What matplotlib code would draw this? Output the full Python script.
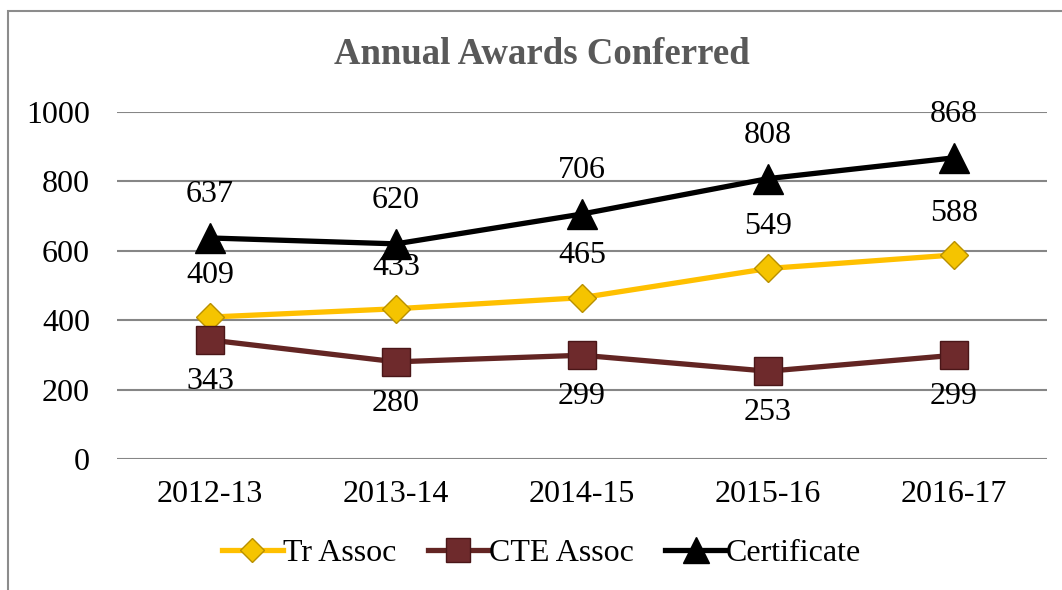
import matplotlib
matplotlib.use("Agg")
import matplotlib.pyplot as plt
from matplotlib.patches import Rectangle

categories = ["2012-13", "2013-14", "2014-15", "2015-16", "2016-17"]
tr_assoc = [409, 433, 465, 549, 588]
cte_assoc = [343, 280, 299, 253, 299]
certificate = [637, 620, 706, 808, 868]
yticks = [0, 200, 400, 600, 800, 1000]

plt.rcParams['font.family'] = ['Liberation Serif', 'DejaVu Serif']

fig = plt.figure(figsize=(10.62, 5.9), dpi=100)
ax = fig.add_axes([117/1062, 1-459/590, (1047-117)/1062, (459-112)/590])

x = list(range(len(categories)))
lw = 3.8
l1, = ax.plot(x, tr_assoc, color='#FFC000', lw=lw, marker='D', ms=14,
              markerfacecolor='#F5C400', markeredgecolor='#B89000', mew=1, zorder=3,
              label='Tr Assoc')
l2, = ax.plot(x, cte_assoc, color='#632523', lw=lw, marker='s', ms=20,
              markerfacecolor='#6E2A2C', markeredgecolor='#4A1618', mew=1, zorder=3,
              label='CTE Assoc')
l3, = ax.plot(x, certificate, color='#000000', lw=lw, marker='^', ms=22,
              markerfacecolor='#000000', markeredgecolor='#000000', zorder=4,
              label='Certificate')

fs = 23
for xi, v in zip(x, tr_assoc):
    ax.annotate(str(v), (xi, v), xytext=(0, 30), textcoords='offset points',
                ha='center', va='center', fontsize=fs, zorder=5)
for xi, v in zip(x, cte_assoc):
    ax.annotate(str(v), (xi, v), xytext=(0, -30), textcoords='offset points',
                ha='center', va='center', fontsize=fs, zorder=5)
for xi, v in zip(x, certificate):
    ax.annotate(str(v), (xi, v), xytext=(0, 31), textcoords='offset points',
                ha='center', va='center', fontsize=fs, zorder=5)

ax.set_xlim(-0.5, len(categories) - 0.5)
ax.set_ylim(0, 1000)
ax.set_yticks(yticks)
ax.set_yticklabels([str(t) for t in yticks], fontsize=fs)
ax.set_xticks(x)
ax.set_xticklabels(categories, fontsize=fs)
ax.tick_params(axis='both', length=0)
ax.tick_params(axis='y', pad=19.5)
ax.tick_params(axis='x', pad=15)
ax.grid(axis='y', color='#868686', lw=1.5)
ax.set_axisbelow(True)
for s in ax.spines.values():
    s.set_visible(False)
ax.set_facecolor('none')

fig.text(0.510, 1-54/590, "Annual Awards Conferred", ha='center', va='center',
         fontsize=26.5, fontweight='bold', color='#595959')

fig.legend(handles=[l1, l2, l3], loc='center', bbox_to_anchor=(0.51, 1-553/590),
           ncol=3, frameon=False, fontsize=fs, handlelength=1.9, handletextpad=0.0,
           columnspacing=1.0, markerscale=0.85)

border = Rectangle((8/1062, -0.1), 1.2, 1-11/590+0.1, transform=fig.transFigure,
                   fill=False, edgecolor='#8C8C8C', lw=1.5, clip_on=False)
fig.patches.append(border)

fig.savefig("out.png", dpi=100)
